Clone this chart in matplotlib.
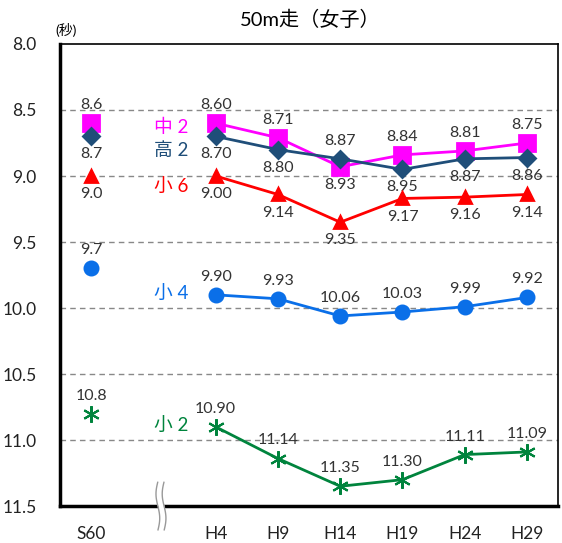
import numpy as np
import matplotlib.pyplot as plt

plt.rcParams['font.family'] = ['Lato', 'Noto Sans CJK JP', 'DejaVu Sans']

categories = ["S60", "H4", "H9", "H14", "H19", "H24", "H29"]
xpos = [0, 2, 3, 4, 5, 6, 7]

chu2 = [8.6, 8.60, 8.71, 8.93, 8.84, 8.81, 8.75]
chu2_lbl = ["8.6", "8.60", "8.71", "8.93", "8.84", "8.81", "8.75"]
ko2 = [8.7, 8.70, 8.80, 8.87, 8.95, 8.87, 8.86]
ko2_lbl = ["8.7", "8.70", "8.80", "8.87", "8.95", "8.87", "8.86"]
sho6 = [9.0, 9.00, 9.14, 9.35, 9.17, 9.16, 9.14]
sho6_lbl = ["9.0", "9.00", "9.14", "9.35", "9.17", "9.16", "9.14"]
sho4 = [9.7, 9.90, 9.93, 10.06, 10.03, 9.99, 9.92]
sho4_lbl = ["9.7", "9.90", "9.93", "10.06", "10.03", "9.99", "9.92"]
sho2 = [10.8, 10.90, 11.14, 11.35, 11.30, 11.11, 11.09]
sho2_lbl = ["10.8", "10.90", "11.14", "11.35", "11.30", "11.11", "11.09"]

# label above (+1) or below (-1) the marker
chu2_pos = [1, 1, 1, -1, 1, 1, 1]
ko2_pos = [-1, -1, -1, 1, -1, -1, -1]
sho6_pos = [-1] * 7
sho4_pos = [1] * 7
sho2_pos = [1] * 7

series = [
    ("中2", chu2, chu2_lbl, chu2_pos, "#FF00FF", "s", 11, 2),
    ("高2", ko2, ko2_lbl, ko2_pos, "#1F4E79", "D", 8.5, 2),
    ("小6", sho6, sho6_lbl, sho6_pos, "#FF0000", "^", 9, 2),
    ("小4", sho4, sho4_lbl, sho4_pos, "#0A6FE8", "o", 9.5, 2),
    ("小2", sho2, sho2_lbl, sho2_pos, "#00843D", (6, 2, 0), 12, 1.5),
]
name_y = [8.63, 8.81, 9.09, 9.90, 10.90]

fig = plt.figure(figsize=(5.62, 5.43), dpi=100)
ax = fig.add_axes([0.107, 0.068, 0.886, 0.851])

for (name, vals, lbls, pos, col, mk, ms, mew), ny in zip(series, name_y):
    ax.plot(xpos[0], vals[0], marker=mk, color=col, markersize=ms,
            markeredgewidth=mew, linestyle="none", zorder=3)
    ax.plot(xpos[1:], vals[1:], marker=mk, color=col, markersize=ms,
            markeredgewidth=mew, linewidth=2, zorder=3)
    for x, v, t, p in zip(xpos, vals, lbls, pos):
        ax.annotate(t, (x, v), xytext=(0, 13 * p), textcoords="offset points",
                    ha="center", va="center", fontsize=11.5, color="#333333")
    ax.text(1.28, ny, name[0] + " " + name[1], color=col, fontsize=13.5,
            ha="center", va="center")

# leader line under the last 高2 point
ax.plot([7, 7], [8.89, 8.96], color="#aaaaaa", linewidth=1, zorder=2)

ax.set_ylim(11.5, 8.0)
ax.set_xlim(-0.5, 7.5)
ax.set_yticks(np.arange(8.0, 11.51, 0.5))
ax.set_yticklabels(["%.1f" % t for t in np.arange(8.0, 11.51, 0.5)])
ax.set_xticks(xpos)
ax.set_xticklabels(categories)
ax.tick_params(length=0, labelsize=12.5, colors="#222222")
ax.tick_params(axis="y", pad=17)
ax.tick_params(axis="x", pad=14)
for y in np.arange(8.5, 11.01, 0.5):
    ax.axhline(y, color="#888888", linestyle=(0, (4, 3)), linewidth=1, zorder=1)

for s in ["top", "right"]:
    ax.spines[s].set_linewidth(1.2)
for s in ["left", "bottom"]:
    ax.spines[s].set_linewidth(2.5)

# axis break mark
t = np.linspace(-0.18, 0.18, 30)
for dx in (-0.05, 0.05):
    ax.plot(1.12 + dx + 0.03 * np.sin(t * 17), 11.5 + t, color="#999999",
            linewidth=1, clip_on=False, zorder=6)
ax.fill_betweenx(11.5 + t, 1.07 + 0.03 * np.sin(t * 17) + 0.01,
                 1.17 + 0.03 * np.sin(t * 17) - 0.01, color="white",
                 clip_on=False, zorder=5)

fig.text(0.552, 0.965, "50m走（女子）", ha="center", va="center", fontsize=14.5)
fig.text(0.118, 0.945, "(秒)", ha="center", va="center", fontsize=10)

fig.savefig("out.png", dpi=100)
